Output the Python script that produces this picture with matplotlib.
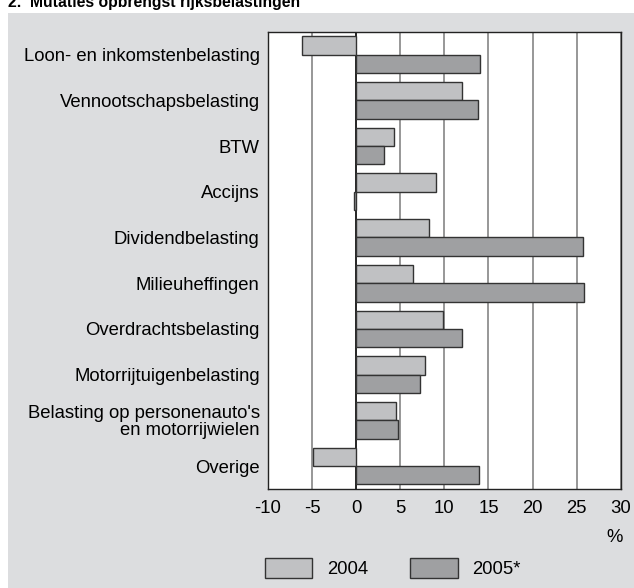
import numpy as np
import matplotlib
matplotlib.use('Agg')
from matplotlib import pyplot as plt
from matplotlib.patches import Rectangle, Patch

# data (% mutatie)
categories = ['Loon- en inkomstenbelasting', 'Vennootschapsbelasting', 'BTW', 'Accijns',
              'Dividendbelasting', 'Milieuheffingen', 'Overdrachtsbelasting',
              'Motorrijtuigenbelasting', "Belasting op personenauto's\nen motorrijwielen", 'Overige']
v2004 = [-6.2, 12.0, 4.3, 9.0, 8.3, 6.4, 9.9, 7.8, 4.5, -4.9]
v2005 = [14.0, 13.8, 3.2, -0.3, 25.7, 25.8, 12.0, 7.2, 4.7, 13.9]
xticks = [-10, -5, 0, 5, 10, 15, 20, 25, 30]

plt.rcParams['font.family'] = ['Liberation Sans', 'DejaVu Sans']

c04 = '#c0c1c3'
c05 = '#9fa0a2'
bg = '#dcdddf'
fs = 13.3

fig = plt.figure(figsize=(6.34, 5.88), dpi=100)
fig.patch.set_facecolor('white')
fig.patches.append(Rectangle((8/634, 0), 1, 1 - 12.7/588, transform=fig.transFigure,
                             facecolor=bg, edgecolor='none', zorder=-10))
fig.text(8/634, 1 - 7/588, '2.  Mutaties opbrengst rijksbelastingen', fontsize=11.3,
         fontweight='bold', va='baseline', ha='left')

ax = fig.add_axes([268/634, 1 - 489/588, (620.7 - 268)/634, (489 - 31.7)/588])
n = len(categories)
centers = np.arange(n) + 0.5
ax.barh(centers - 0.2, v2004, height=0.4, color=c04, edgecolor='#333333', linewidth=1, zorder=3)
ax.barh(centers + 0.2, v2005, height=0.4, color=c05, edgecolor='#333333', linewidth=1, zorder=3)

ax.set_ylim(n, 0)
ax.set_xlim(-10, 30)
ax.set_xticks(xticks)
ax.set_xticklabels([str(t) for t in xticks], fontsize=fs)
ax.set_yticks(centers)
ax.set_yticklabels(categories, fontsize=fs, linespacing=1.0)
for lab in ax.get_yticklabels():
    lab.set_multialignment('right')
ax.tick_params(length=0)
ax.tick_params(axis='x', pad=8)
ax.tick_params(axis='y', pad=6)
for t in xticks:
    ax.axvline(t, color='black' if t == 0 else '#858585', linewidth=1.2, zorder=1)
for s in ax.spines.values():
    s.set_color('#222222')
    s.set_linewidth(1)

fig.text(615/634, 1 - 537/588, '%', fontsize=fs, ha='center', va='center')

handles = [Patch(facecolor=c04, edgecolor='#333333', label='2004'),
           Patch(facecolor=c05, edgecolor='#333333', label='2005*')]
ax.legend(handles=handles, loc='center left', bbox_to_anchor=(265/634, 1 - 568/588),
          bbox_transform=fig.transFigure, ncol=2, frameon=False, fontsize=fs,
          handlelength=2.55, handleheight=1.25, handletextpad=0.8, columnspacing=2.3,
          borderpad=0, borderaxespad=0)

plt.savefig('out.png', dpi=100)
